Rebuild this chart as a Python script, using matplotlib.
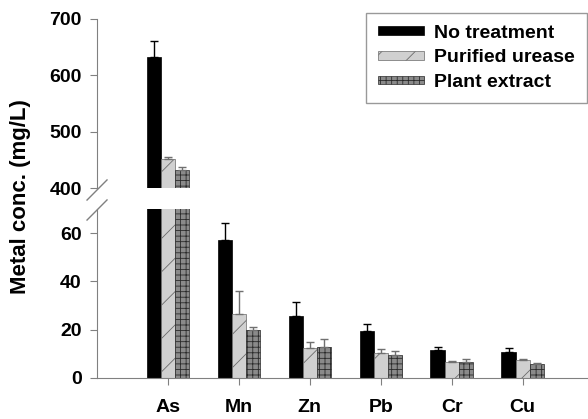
import numpy as np
import matplotlib
matplotlib.use("Agg")
import matplotlib.pyplot as plt

plt.rcParams['font.family'] = ['Liberation Sans', 'DejaVu Sans']
plt.rcParams['font.weight'] = 'bold'
plt.rcParams['hatch.linewidth'] = 0.6

metals = ['As', 'Mn', 'Zn', 'Pb', 'Cr', 'Cu']
series = ['No treatment', 'Purified urease', 'Plant extract']
no_treat = [633, 57, 25.8, 19.6, 11.7, 10.7]
no_treat_err = [27, 7.4, 5.5, 2.7, 1.1, 1.6]
purified = [452, 26.6, 12.4, 10.3, 6.8, 7.4]
purified_err = [4, 9.6, 2.3, 1.8, 0.4, 0.4]
plant = [433, 19.7, 12.8, 9.6, 6.4, 5.8]
plant_err = [4, 1.5, 3.3, 1.4, 1.4, 0.4]

styles = [
    dict(color='black', edgecolor='black', hatch=None),
    dict(color='#d0d0d0', edgecolor='#6a6a6a', hatch='/'),
    dict(color='#8a8a8a', edgecolor='#2a2a2a', hatch='+++'),
]
err_colors = ['black', '#707070', '#707070']
values = [no_treat, purified, plant]
errors = [no_treat_err, purified_err, plant_err]

fig = plt.figure(figsize=(5.88, 4.19), dpi=100)
ax_top = fig.add_axes([0.165, 0.551, 0.835, 0.404])
ax_bot = fig.add_axes([0.165, 0.098, 0.835, 0.403])

x = np.arange(1, len(metals) + 1)
w = 0.2
spine_col = '#808080'

for ax in (ax_top, ax_bot):
    for i in range(3):
        ax.bar(x + (i - 1) * w, values[i], w, yerr=[np.zeros(len(x)), errors[i]],
               error_kw=dict(ecolor=err_colors[i], elinewidth=1, capsize=3, capthick=1),
               linewidth=0.5, label=series[i], **styles[i])
    ax.set_xlim(0, 6.92)
    for s in ['top', 'right']:
        ax.spines[s].set_visible(False)
    ax.spines['left'].set_color(spine_col)
    ax.spines['bottom'].set_color(spine_col)
    ax.tick_params(axis='both', colors=spine_col, labelcolor='black', labelsize=14)
    ax.tick_params(axis='y', length=5, pad=6)
    for lab in ax.get_yticklabels():
        lab.set_fontweight('bold')

ax_top.set_ylim(400, 700)
ax_top.set_yticks([400, 500, 600, 700])
ax_top.spines['bottom'].set_visible(False)
ax_top.tick_params(axis='x', bottom=False, labelbottom=False)

ax_bot.set_ylim(0, 70)
ax_bot.set_yticks([0, 20, 40, 60])
ax_bot.set_xticks(x)
ax_bot.set_xticklabels(metals, fontsize=14, fontweight='bold')
ax_bot.tick_params(axis='x', length=5, pad=10)

# break marks
for yc in (190, 210):
    yf = 1 - yc / 419
    fig.add_artist(plt.Line2D([0.148, 0.182], [yf - 0.024, yf + 0.024],
                              color=spine_col, lw=1, transform=fig.transFigure))

leg = ax_top.legend(loc='upper right', bbox_to_anchor=(0.997, 1.035), borderaxespad=0,
                    fontsize=14, handlelength=2.4, handleheight=0.3, frameon=True,
                    fancybox=False, borderpad=0.6, labelspacing=0.4, handletextpad=0.5)
leg.get_frame().set_edgecolor(spine_col)
for t in leg.get_texts():
    t.set_fontweight('bold')

fig.text(0.035, 0.53, 'Metal conc. (mg/L)', rotation=90, va='center', ha='center',
         fontsize=16, fontweight='bold')

fig.savefig('out.png', dpi=100)
